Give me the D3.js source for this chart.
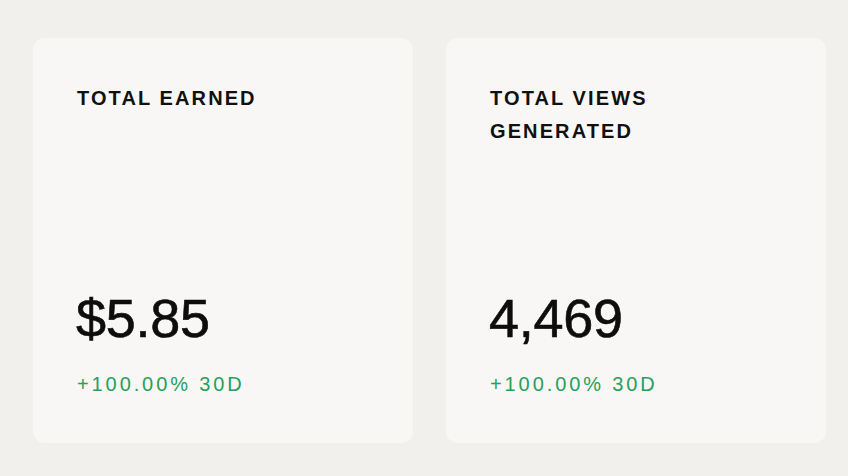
<!DOCTYPE html>
<html lang="en">
<head>
<meta charset="utf-8">
<title>stat cards</title>
<script src="https://cdn.jsdelivr.net/npm/d3@7"></script>
<style>
  html, body { margin: 0; padding: 0; background: #f2f0ec; }
  svg { display: block; }
</style>
</head>
<body>
<script>
// card content
var cardTitles = [["TOTAL EARNED"], ["TOTAL VIEWS", "GENERATED"]];
var cardValues = [5.85, 4469];
var cardFormats = ["$.2f", ",d"];
var cardChanges = [100.00, 100.00];
var changePeriod = "30D";

var w = 848, h = 476;

var svg = d3.select("body").append("svg")
  .attr("width", w)
  .attr("height", h);

// cards laid out with a band scale
var xScale = d3.scaleBand()
  .domain(d3.range(cardValues.length))
  .range([33, 826])
  .paddingInner(0.08);

var cardTop = 38, cardBottom = 443;
var pad = 44;

var cards = svg.selectAll("g.card")
  .data(cardValues)
  .enter()
  .append("g")
  .attr("class", "card")
  .attr("transform", function(d, i) { return "translate(" + xScale(i) + "," + cardTop + ")"; });

cards.append("rect")
  .attr("width", xScale.bandwidth())
  .attr("height", cardBottom - cardTop)
  .attr("rx", 12)
  .attr("fill", "#f8f7f5");

// title, may wrap to two lines
cards.append("text")
  .attr("x", pad)
  .attr("y", 67)
  .attr("font-family", "Liberation Sans, Arial, sans-serif")
  .attr("font-size", 20)
  .attr("font-weight", "bold")
  .attr("letter-spacing", 2.1)
  .attr("fill", "#111111")
  .selectAll("tspan")
  .data(function(d, i) { return cardTitles[i]; })
  .enter()
  .append("tspan")
  .attr("x", pad)
  .attr("dy", function(d, j) { return j === 0 ? 0 : 33; })
  .text(function(d) { return d; });

// big value
cards.append("text")
  .attr("x", pad - 1)
  .attr("y", 299)
  .attr("font-family", "Liberation Sans, Arial, sans-serif")
  .attr("font-size", 54)
  .attr("letter-spacing", -0.3)
  .attr("stroke", "#0d0d0d")
  .attr("stroke-width", 0.6)
  .attr("fill", "#0d0d0d")
  .text(function(d, i) { return d3.format(cardFormats[i])(d); });

// change vs period
cards.append("text")
  .attr("x", pad)
  .attr("y", 353)
  .attr("font-family", "Liberation Sans, Arial, sans-serif")
  .attr("font-size", 20)
  .attr("letter-spacing", 2.9)
  .attr("fill", "#26a05b")
  .text(function(d, i) { return "+" + d3.format(".2f")(cardChanges[i]) + "% " + changePeriod; });
</script>
</body>
</html>
